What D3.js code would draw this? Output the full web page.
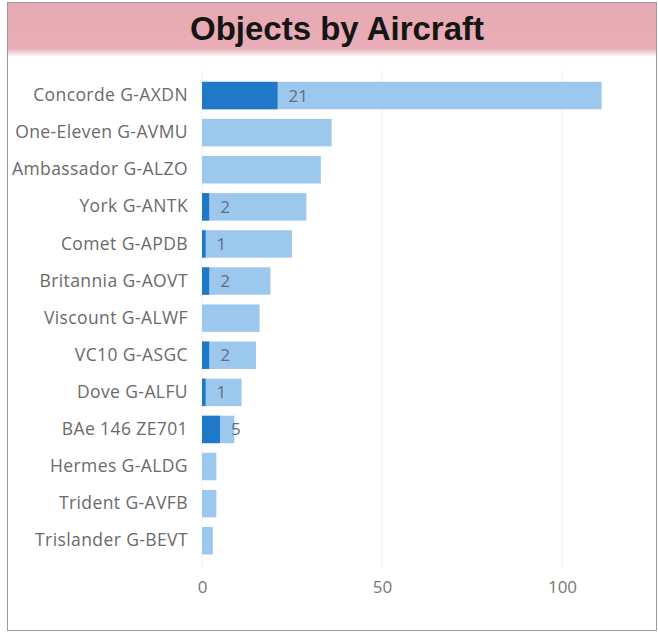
<!DOCTYPE html>
<html>
<head>
<meta charset="utf-8">
<script src="https://cdn.jsdelivr.net/npm/d3@7"></script>
<style>
    body { margin: 0; background: #fff; }
    #chart { width: 658px; height: 633px; }
</style>
</head>
<body>
<div id="chart"></div>
<script>

// aircraft names, top to bottom
var aircraft = ["Concorde G-AXDN", "One-Eleven G-AVMU", "Ambassador G-ALZO", "York G-ANTK",
    "Comet G-APDB", "Britannia G-AOVT", "Viscount G-ALWF", "VC10 G-ASGC", "Dove G-ALFU",
    "BAe 146 ZE701", "Hermes G-ALDG", "Trident G-AVFB", "Trislander G-BEVT"];

// total objects per aircraft (light bar)
var totals = [111, 36, 33, 29, 25, 19, 16, 15, 11, 9, 4, 4, 3];

// highlighted objects (dark bar), 0 = none
var highlighted = [21, 0, 0, 2, 1, 2, 0, 2, 1, 5, 0, 0, 0];

var xTicks = [0, 50, 100];

var width = 658, height = 633;

var svg = d3.select("#chart").append("svg")
    .attr("width", width)
    .attr("height", height);

// header band with soft bottom edge
var defs = svg.append("defs");
var grad = defs.append("linearGradient")
    .attr("id", "hdr")
    .attr("x1", 0).attr("y1", 0).attr("x2", 0).attr("y2", 1);
grad.append("stop").attr("offset", "0%").attr("stop-color", "#e7a8b1");
grad.append("stop").attr("offset", "84%").attr("stop-color", "#e9aeb7");
grad.append("stop").attr("offset", "100%").attr("stop-color", "#ffffff");

// frame
svg.append("rect")
    .attr("x", 7.5).attr("y", 2.5)
    .attr("width", 649).attr("height", 628)
    .attr("fill", "#fff")
    .attr("stroke", "#9a9a9a")
    .attr("stroke-width", 1);

svg.append("rect")
    .attr("x", 8).attr("y", 3)
    .attr("width", 648).attr("height", 54)
    .attr("fill", "url(#hdr)");

svg.append("text")
    .attr("x", 337)
    .attr("y", 40)
    .attr("text-anchor", "middle")
    .style("font-family", "'Liberation Sans', Arial, sans-serif")
    .style("font-weight", "bold")
    .style("font-size", "33px")
    .style("fill", "#151515")
    .text("Objects by Aircraft");

// scales
var x = d3.scaleLinear()
    .domain([0, 111])
    .range([202, 202 + 111 * 3.6]);

var y = d3.scaleBand()
    .domain(aircraft)
    .range([77, 77 + 13 * 37.1])
    .paddingInner(0.26)
    .paddingOuter(0.13);

// gridlines
svg.append("g")
    .selectAll("line")
    .data(xTicks)
    .enter().append("line")
    .attr("x1", function(d) { return x(d); })
    .attr("x2", function(d) { return x(d); })
    .attr("y1", 70)
    .attr("y2", 568)
    .attr("stroke", "#efefef")
    .attr("stroke-width", 1);

// x axis
var xAxis = svg.append("g")
    .attr("transform", "translate(0,576)")
    .call(d3.axisBottom(x).tickValues(xTicks).tickSize(0).tickPadding(5));
xAxis.select(".domain").remove();
xAxis.selectAll("text")
    .style("font-family", "'Open Sans', sans-serif")
    .style("font-size", "17px")
    .style("fill", "#777");

// y axis labels
var yAxis = svg.append("g")
    .attr("transform", "translate(194,0)")
    .call(d3.axisLeft(y).tickSize(0).tickPadding(6));
yAxis.select(".domain").remove();
yAxis.selectAll("text")
    .style("font-family", "'Open Sans', sans-serif")
    .style("font-size", "17.5px")
    .style("letter-spacing", "0.4px")
    .style("fill", "#6a6a6a");

var rows = aircraft.map(function(a, i) {
    return {name: a, total: totals[i], hi: highlighted[i]};
});

// total bars
svg.append("g").selectAll("rect")
    .data(rows)
    .enter().append("rect")
    .attr("x", x(0))
    .attr("y", function(d) { return y(d.name); })
    .attr("width", function(d) { return x(d.total) - x(0); })
    .attr("height", y.bandwidth())
    .attr("fill", "#9dc8ee");

// highlighted bars
var hiRows = rows.filter(function(d) { return d.hi > 0; });
svg.append("g").selectAll("rect")
    .data(hiRows)
    .enter().append("rect")
    .attr("x", x(0))
    .attr("y", function(d) { return y(d.name); })
    .attr("width", function(d) { return x(d.hi) - x(0); })
    .attr("height", y.bandwidth())
    .attr("fill", "#2079c7");

// value labels
svg.append("g").selectAll("text")
    .data(hiRows)
    .enter().append("text")
    .attr("x", function(d) { return x(d.hi) + 11; })
    .attr("y", function(d) { return y(d.name) + y.bandwidth() / 2; })
    .attr("dy", "0.35em")
    .style("font-family", "'Open Sans', sans-serif")
    .style("font-size", "17px")
    .style("fill", "#5f6f80")
    .text(function(d) { return d.hi; });

</script>
</body>
</html>
